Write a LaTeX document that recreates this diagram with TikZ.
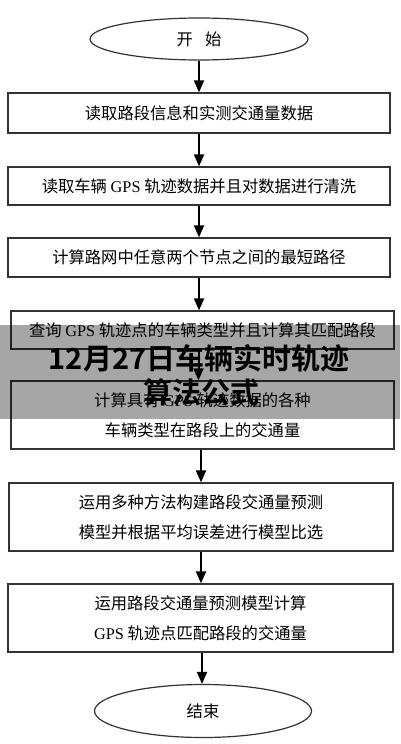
\documentclass[tikz,border=0pt]{standalone}
\usepackage{fontspec}
\setmainfont{Noto Sans CJK SC}
\newfontfamily\latf{Liberation Serif}
\newfontfamily\titlef{Noto Sans CJK SC Bold}
\usetikzlibrary{shapes.geometric,arrows.meta}
\begin{document}
\begin{tikzpicture}[x=1pt,y=-1pt,
  box/.style={draw=black!80, line width=1.2pt, rectangle, inner sep=0pt,
    font=\fontsize{16.3}{30}\selectfont, align=center},
  oval/.style={draw=black!80, line width=1.2pt, ellipse, inner sep=0pt,
    font=\fontsize{16.3}{20}\selectfont},
  arr/.style={line width=2pt, -{Triangle[width=10pt,length=12pt]}},
  ttl/.style={font=\titlef\fontsize{29}{34}\selectfont, text=black}]
\useasboundingbox (0,0) rectangle (400,744);
\fill[white] (0,0) rectangle (400,744);
\node[oval, minimum width=218pt, minimum height=42pt] (start) at (199,39) {开\hspace{0.75em}始};
\node[box, minimum width=382pt, minimum height=40pt] (b1) at (199,113) {读取路段信息和实测交通量数据};
\node[box, minimum width=382pt, minimum height=38pt] (b2) at (199,186) {读取车辆 {\latf GPS} 轨迹数据并且对数据进行清洗};
\node[box, minimum width=382pt, minimum height=39pt] (b3) at (199,257.5) {计算路网中任意两个节点之间的最短路径};
\node[box, minimum width=383pt, minimum height=38pt] (b4) at (202.5,330) {查询 {\latf GPS} 轨迹点的车辆类型并且计算其匹配路段};
\node[box, minimum width=383pt, minimum height=68pt] (b5) at (202.5,415) {计算具有 {\latf GPS} 轨迹数据的各种\\车辆类型在路段上的交通量};
\node[box, minimum width=384pt, minimum height=68pt] (b6) at (201,517) {运用多种方法构建路段交通量预测\\模型并根据平均误差进行模型比选};
\node[box, minimum width=385pt, minimum height=68pt] (b7) at (200.5,618) {运用路段交通量预测模型计算\\{\latf GPS} 轨迹点匹配路段的交通量};
\node[oval, minimum width=217pt, minimum height=53pt] (end) at (203,711) {结束};
\draw[arr] (start.south) -- (start.south |- b1.north);
\draw[arr] (b1.south) -- (b1.south |- b2.north);
\draw[arr] (b2.south) -- (b2.south |- b3.north);
\draw[arr] (b3.south) -- (b3.south |- b4.north);
\coordinate (a4) at ([xshift=-4pt]b4.south);
\draw[arr] (a4) -- (a4 |- b5.north);
\coordinate (a5) at ([xshift=-1.5pt]b5.south);
\draw[arr] (a5) -- (a5 |- b6.north);
\draw[arr] (b6.south) -- (b6.south |- b7.north);
\coordinate (a7) at ([xshift=1.5pt]b7.south);
\draw[arr] (a7) -- (a7 |- end.north);
\fill[black, opacity=0.35] (0,325) rectangle (400,419);
\node[ttl] (t1) at (199,358) {12月27日车辆实时轨迹};
\node[ttl] (t2) at (201,392) {算法公式};
\end{tikzpicture}
\end{document}
